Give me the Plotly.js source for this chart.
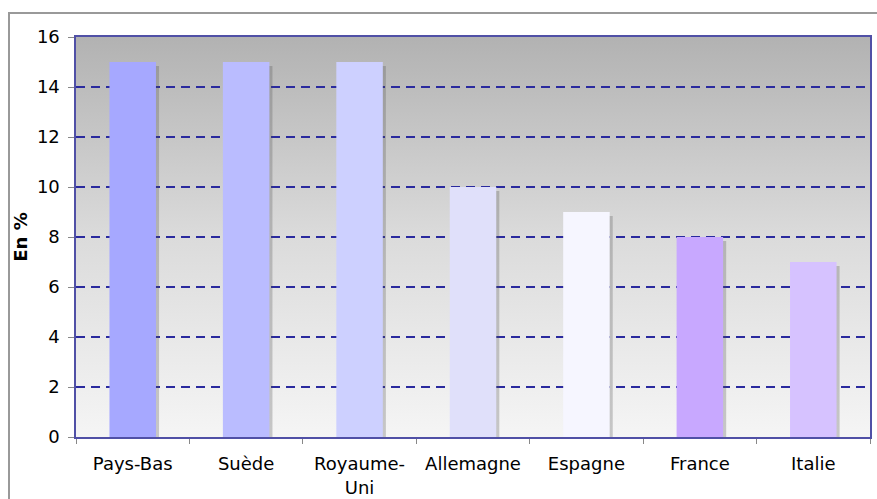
<!DOCTYPE html>
<html>
<head>
<meta charset="utf-8">
<script src="https://cdn.plot.ly/plotly-3.0.1.min.js"></script>
<style>
  html, body { margin: 0; padding: 0; background: #fff; }
  #wrap { position: relative; width: 877px; height: 499px; overflow: hidden; }
  #chart { width: 877px; height: 499px; }
  #frame { position: absolute; left: 8px; top: 12px; width: 900px; height: 600px;
           border: 2px solid #999; pointer-events: none; box-sizing: border-box; }
</style>
</head>
<body>
<div id="wrap">
  <div id="chart"></div>
  <div id="frame"></div>
</div>
<script>
// Data
const categories = ['Pays-Bas', 'Suède', 'Royaume-<br>Uni', 'Allemagne', 'Espagne', 'France', 'Italie'];
const values = [15, 15, 15, 10, 9, 8, 7];
const barColors = ['#a6a8ff', '#babcff', '#cdd0ff', '#e0e0fa', '#f6f6ff', '#c8a8ff', '#d6c2ff'];
const yTicks = [0, 2, 4, 6, 8, 10, 12, 14, 16];

const FONT = 'DejaVu Sans, Verdana, sans-serif';
const barWidth = 0.41;
const shadowDx = 0.027;   // ~3px shift right
const shadowDy = 0.16;    // ~4px lower top

const gradSvg = "<svg xmlns='http://www.w3.org/2000/svg' width='100' height='100' preserveAspectRatio='none'>" +
  "<defs><linearGradient id='g' x1='0' y1='0' x2='0' y2='1'>" +
  "<stop offset='0' stop-color='#b2b2b2'/><stop offset='0.5' stop-color='#dbdbdb'/>" +
  "<stop offset='1' stop-color='#f5f5f5'/></linearGradient></defs>" +
  "<rect width='100' height='100' fill='url(#g)'/></svg>";
const gradUri = 'data:image/svg+xml;charset=utf-8,' + encodeURIComponent(gradSvg);

const shadow = {
  type: 'bar',
  x: categories,
  y: values.map(v => v - shadowDy),
  width: barWidth,
  offset: -barWidth / 2 + shadowDx,
  marker: { color: 'rgba(80,80,80,0.28)', line: { width: 0 } },
  hoverinfo: 'skip',
  showlegend: false
};

const bars = {
  type: 'bar',
  x: categories,
  y: values,
  width: barWidth,
  offset: -barWidth / 2,
  marker: { color: barColors, line: { width: 0 } },
  showlegend: false
};

const layout = {
  width: 877,
  height: 499,
  margin: { l: 76, r: 7, t: 37, b: 62 },
  paper_bgcolor: '#ffffff',
  plot_bgcolor: 'rgba(0,0,0,0)',
  barmode: 'overlay',
  font: { family: FONT, size: 18, color: '#000' },
  images: [{
    source: gradUri, xref: 'paper', yref: 'paper', x: 0, y: 1,
    sizex: 1, sizey: 1, xanchor: 'left', yanchor: 'top',
    sizing: 'stretch', layer: 'below'
  }],
  xaxis: {
    type: 'category',
    range: [-0.5, 6.5],
    showgrid: false,
    showline: true, linecolor: '#5050a6', linewidth: 1.6, mirror: true,
    ticks: 'outside', tickson: 'boundaries', ticklen: 5, tickcolor: '#888', tickwidth: 1,
    ticklabelstandoff: 10,
    tickfont: { family: FONT, size: 18, color: '#000' },
    fixedrange: true
  },
  yaxis: {
    range: [0, 16],
    tickvals: yTicks,
    ticktext: yTicks.map(String),
    showgrid: true, gridcolor: '#2a2a9e', gridwidth: 2.2, griddash: '9px,6px',
    zeroline: false,
    showline: true, linecolor: '#5050a6', linewidth: 1.6, mirror: true,
    ticks: 'outside', ticklen: 6, tickcolor: '#888', tickwidth: 1,
    ticklabelstandoff: 5,
    tickfont: { family: FONT, size: 18, color: '#000' },
    title: { text: 'En %', font: { family: FONT, size: 18, color: '#000', weight: 'bold' }, standoff: 4 },
    fixedrange: true
  }
};

Plotly.newPlot('chart', [shadow, bars], layout, { staticPlot: true, displayModeBar: false });
</script>
</body>
</html>
